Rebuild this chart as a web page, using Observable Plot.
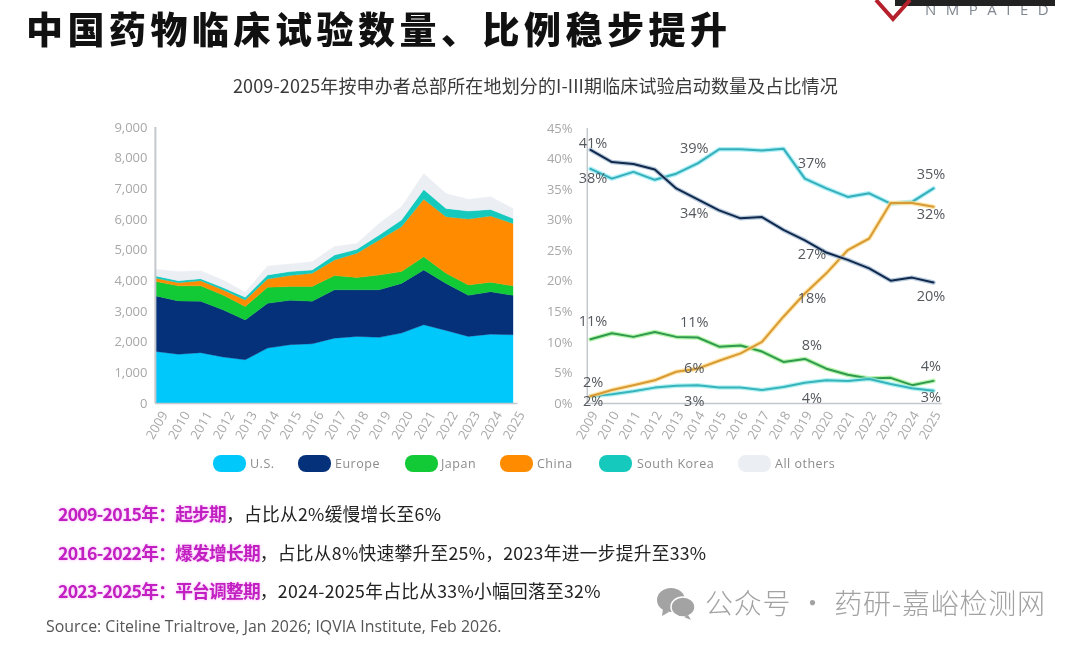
<!DOCTYPE html>
<html><head><meta charset="utf-8">
<script src="https://cdn.jsdelivr.net/npm/d3@7"></script>
<script src="https://cdn.jsdelivr.net/npm/@observablehq/plot@0.6"></script>
<style>
html,body{margin:0;padding:0;background:#fff;width:1080px;height:645px;overflow:hidden;font-family:"Noto Sans CJK SC","Noto Sans",sans-serif}
body{filter:blur(.4px)}
.a{position:absolute;white-space:nowrap}
#title{left:26px;top:2px;font-size:37px;font-weight:900;letter-spacing:4.5px;color:#111;line-height:52px}
#sub{left:233px;top:72px;font-size:18px;color:#3a3a3a;line-height:26px;letter-spacing:.13px}
.plot{position:absolute}
.sw{position:absolute;width:33px;height:17px;top:455px;border-radius:8px}
.lg{position:absolute;top:455px;font:12.5px/18px "Open Sans",sans-serif;color:#8c8c8c;letter-spacing:.5px}
.b{left:58px;font-size:17.7px;line-height:24px;color:#222;letter-spacing:.3px}
.b b{color:#c21fc2;font-weight:700;text-shadow:0 0 3px #f3a6f3;letter-spacing:-.75px}
#src{left:46px;top:614px;font:17px/24px "Open Sans",sans-serif;color:#555;transform-origin:left;transform:scaleX(.935)}
#wm{left:705px;top:584px;font-size:28px;line-height:36px;color:#a2a2a2;letter-spacing:.8px;font-weight:300}
</style></head><body>
<div class="a" id="title">中国药物临床试验数量、比例稳步提升</div>
<div class="a" id="sub">2009-2025年按申办者总部所在地划分的I-III期临床试验启动数量及占比情况</div>
<div id="left" class="plot" style="left:110px;top:110px"></div>
<div id="right" class="plot" style="left:540px;top:110px"></div>
<div id="legend"></div>
<div class="a b" style="top:501px"><b>2009-2015年：起步期</b>，占比从2%缓慢增长至6%</div>
<div class="a b" style="top:540px"><b>2016-2022年：爆发增长期</b>，占比从8%快速攀升至25%，2023年进一步提升至33%</div>
<div class="a b" style="top:578px"><b>2023-2025年：平台调整期</b>，2024-2025年占比从33%小幅回落至32%</div>
<div class="a" id="src">Source: Citeline Trialtrove, Jan 2026; IQVIA Institute, Feb 2026.</div>
<svg class="a" style="left:656px;top:586px" width="42" height="36"><ellipse cx="15" cy="14" rx="14" ry="12" fill="#a3a3a3"/><path d="M7 23l-1 7 7-4z" fill="#a3a3a3"/><ellipse cx="27" cy="21" rx="12" ry="10" fill="#a3a3a3" stroke="#fff" stroke-width="1.5"/><path d="M32 29l3 5-7-3z" fill="#a3a3a3"/></svg>
<div class="a" id="wm">公众号 · 药研-嘉峪检测网</div>
<svg class="a" style="left:860px;top:0" width="220" height="24"><text x="65" y="15" font-family="Open Sans" font-size="15" fill="#7f8790" letter-spacing="9.5">NMPAIED</text><rect x="35" y="0" width="160" height="6" fill="#222"/><path d="M16 0l17 19L50 0" fill="none" stroke="#b5202a" stroke-width="4"/></svg>
<script>
const years = d3.range(2009, 2026);
const regions = ["U.S.", "Europe", "Japan", "China", "South Korea", "All others"];
// Left: trial starts by region
const usCount     = [1680,1590,1640,1500,1410,1790,1900,1930,2115,2170,2140,2280,2550,2365,2170,2245,2225];
const europeCount = [1810,1740,1680,1540,1300,1460,1450,1390,1575,1520,1550,1620,1790,1535,1340,1385,1285];
const japanCount  = [470,490,500,485,435,525,450,480,465,400,485,385,430,330,340,310,310];
const chinaCount  = [110,105,170,165,215,270,355,430,510,790,1140,1465,1870,1845,2150,2155,2035];
const koreaCount  = [70,65,65,75,90,130,130,110,160,130,162,215,320,270,260,215,165];
const othersCount = [220,295,260,245,160,295,250,270,275,195,378,435,520,485,380,415,325];
// Right: shares
const usShare     = [38.4,36.8,37.9,36.6,37.6,39.3,41.6,41.6,41.4,41.7,36.8,35.2,33.8,34.4,32.7,33,35.2];
const europeShare = [41.5,39.5,39.2,38.3,35.2,33.4,31.6,30.3,30.5,28.4,26.7,24.7,23.5,22.1,20.1,20.6,19.8];
const japanShare  = [10.5,11.5,10.9,11.7,10.9,10.8,9.3,9.5,8.5,6.8,7.3,5.7,4.7,4.1,4.2,3,3.7];
const chinaShare  = [1.2,2.2,3,3.8,5.2,5.7,7,8.2,10.1,14.2,18,21.3,25.1,27,32.8,32.8,32.2];
const koreaShare  = [1.2,1.5,2,2.6,2.9,3,2.6,2.6,2.2,2.7,3.4,3.8,3.7,4,3.2,2.5,2.1];
// Annotations
const labelText = ["41%","38%","39%","34%","37%","27%","18%","11%","11%","8%","6%","2%","2%","3%","4%","35%","32%","20%","4%","3%"];
const labelYear = [2009.12,2009.12,2013.84,2013.84,2019.33,2019.33,2019.33,2009.12,2013.84,2019.33,2013.84,2009.12,2009.12,2013.84,2019.33,2024.88,2024.88,2024.88,2024.88,2024.88];
const labelPos  = [42.5,36.8,41.7,31.1,39.3,24.4,17.2,13.5,13.2,9.5,5.7,3.4,0.4,0.4,0.8,37.5,31,17.5,6.1,1];

const colors = ["#00c8fb","#05307a","#12c936","#ff8c00","#16c9bd","#ebeef3"];
const countSeries = [usCount,europeCount,japanCount,chinaCount,koreaCount,othersCount];
const stacked = regions.flatMap((r,i)=>years.map((y,j)=>({year:y,region:r,value:countSeries[i][j]})));

const axisCommon = {style:{fontFamily:'"Open Sans",sans-serif',fontSize:"13px",color:"#a8a8a8",overflow:"visible",background:"transparent"}};
const xAxis = (dx) => Plot.axisX(years,{tickRotate:-60,tickSize:0,tickPadding:9,dx,tickFormat:d=>String(d),fill:"#a8a8a8",labelArrow:"none",label:null});

const left = Plot.plot({
  ...axisCommon, width:420, height:350,
  marginLeft:46, marginRight:0, marginTop:17, marginBottom:57,
  x:{domain:[2009,2025], range:[46,403], label:null},
  y:{domain:[0,9000], label:null},
  color:{domain:regions, range:colors},
  marks:[
    Plot.areaY(stacked,{x:"year",y:"value",fill:"region",order:regions,curve:"linear",stroke:"region",strokeOpacity:.35,strokeWidth:1}),
    Plot.ruleX([2008.95],{stroke:"#c4c8cc",strokeWidth:2}),
    Plot.ruleY([0],{stroke:"#c4c8cc",strokeWidth:1.5,x1:2008.95,x2:2025.2}),
    Plot.axisY(d3.range(0,10000,1000),{tickSize:0,tickPadding:9,tickFormat:d3.format(","),fill:"#a8a8a8",label:null}),
    xAxis(8)
  ]
});
document.getElementById("left").append(left);

const shareSeries = [
  {n:"U.S.",v:usShare,c:"#35aeb8",h:"#8fe9f5"},
  {n:"Japan",v:japanShare,c:"#2f9a4e",h:"#9df08f"},
  {n:"South Korea",v:koreaShare,c:"#35b4bc",h:"#9cecec"},
  {n:"China",v:chinaShare,c:"#d79a35",h:"#ffdc8c"},
  {n:"Europe",v:europeShare,c:"#10284c",h:"#9fb8d0"}
];
const lineMarks = shareSeries.flatMap(s=>{
  const d = years.map((y,j)=>({year:y,v:s.v[j]}));
  return [
    Plot.line(d,{x:"year",y:"v",stroke:s.h,strokeWidth:4.5,strokeOpacity:.75}),
    Plot.line(d,{x:"year",y:"v",stroke:s.c,strokeWidth:2})
  ];
});
const labels = labelText.map((t,i)=>({t,x:labelYear[i],y:labelPos[i]}));
const right = Plot.plot({
  ...axisCommon, width:420, height:350,
  marginLeft:39, marginRight:0, marginTop:18, marginBottom:57,
  x:{domain:[2009,2025], range:[50,393], label:null},
  y:{domain:[0,45], label:null},
  marks:[
    Plot.ruleX([2008.85],{stroke:"#c4c8cc",strokeWidth:1.5}),
    Plot.ruleY([0],{stroke:"#c4c8cc",strokeWidth:1.5,x1:2008.85,x2:2025.4}),
    Plot.axisY(d3.range(0,50,5),{tickSize:0,tickPadding:7,tickFormat:d=>d+"%",fill:"#a8a8a8",label:null}),
    xAxis(4),
    ...lineMarks,
    Plot.text(labels,{x:"x",y:"y",text:"t",fill:"#55595e",fontSize:14.5})
  ]
});
document.getElementById("right").append(right);

const legendPos = [[213,250],[298,335],[405,441],[500,537],[599,637],[738,775]];
const lg = document.getElementById("legend");
regions.forEach((r,i)=>{
  const s=document.createElement("div");s.className="sw";s.style.left=legendPos[i][0]+"px";s.style.background=colors[i];lg.append(s);
  const t=document.createElement("div");t.className="lg";t.style.left=legendPos[i][1]+"px";t.textContent=r;lg.append(t);
});
</script>
</body></html>
